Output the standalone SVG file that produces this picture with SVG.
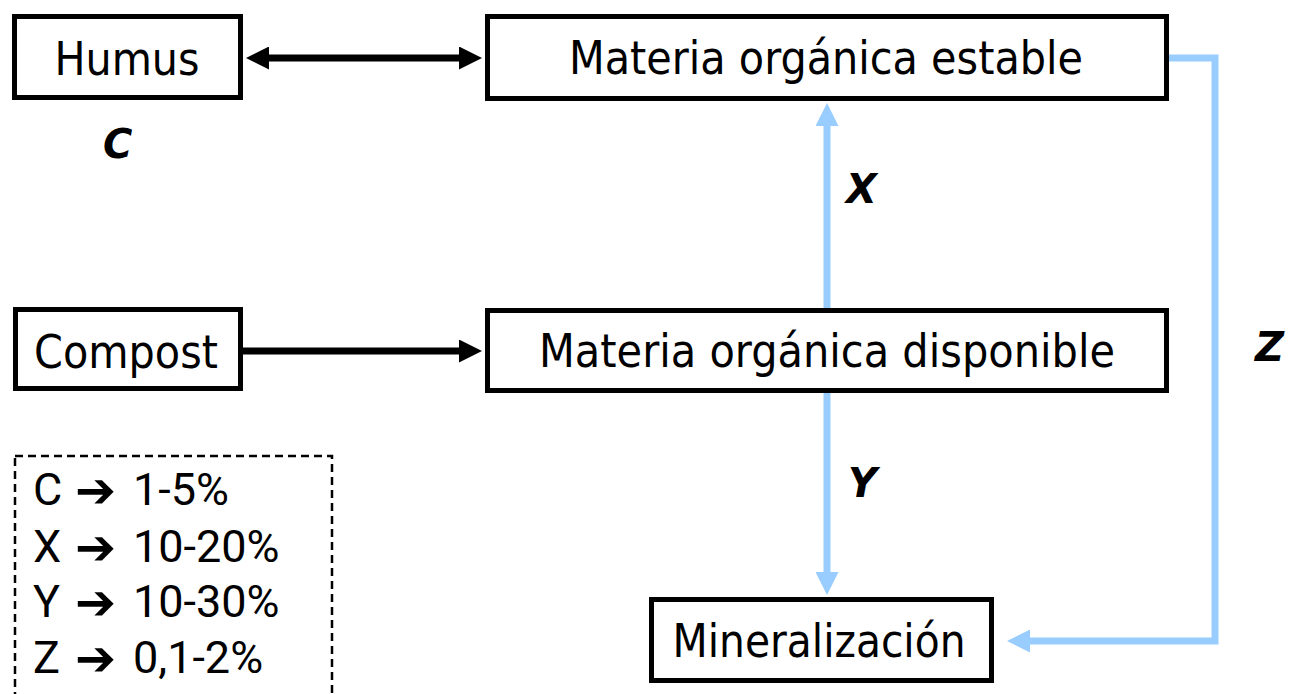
<svg xmlns="http://www.w3.org/2000/svg" width="1289" height="694" viewBox="0 0 1289 694">
<style>
.box{fill:#fff;stroke:#000;stroke-width:5}
.t{font-family:"DejaVu Sans",Verdana,sans-serif;font-size:47px;fill:#000;text-anchor:middle}
.lbl{font-family:"DejaVu Sans",Verdana,sans-serif;font-size:40px;font-weight:bold;font-style:italic;fill:#000}
.leg{font-family:Roboto,"Liberation Sans",sans-serif;font-size:45px;fill:#000}
.arr{font-family:"DejaVu Sans",sans-serif;font-size:49px;font-weight:bold;fill:#000}
.blk{fill:none;stroke:#000;stroke-width:7}
.blu{fill:none;stroke:#99CCFF;stroke-width:7}
</style>
<defs>
<marker id="hb" markerUnits="userSpaceOnUse" viewBox="0 0 23 23" refX="1" refY="11.5" markerWidth="23" markerHeight="23" orient="auto-start-reverse"><path d="M0,0 L23,11.5 L0,23 Z" fill="#000"/></marker>
<marker id="hl" markerUnits="userSpaceOnUse" viewBox="0 0 23 23" refX="1" refY="11.5" markerWidth="23" markerHeight="23" orient="auto-start-reverse"><path d="M0,0 L23,11.5 L0,23 Z" fill="#99CCFF"/></marker>
</defs>
<rect width="1289" height="694" fill="#fff"/>
<g id="connectors">
<line class="blk" x1="268" y1="58" x2="460" y2="58" marker-start="url(#hb)" marker-end="url(#hb)"/>
<line class="blk" x1="243" y1="351" x2="460" y2="351" marker-end="url(#hb)"/>
<line class="blu" x1="827" y1="308" x2="827" y2="125" marker-end="url(#hl)"/>
<line class="blu" x1="827" y1="393" x2="827" y2="573" marker-end="url(#hl)"/>
<polyline class="blu" points="1169,58 1215,58 1215,641 1029,641" marker-end="url(#hl)"/>
</g>
<g id="humus"><rect class="box" x="14.5" y="16.5" width="226" height="81"/><text class="t" x="127" y="75" textLength="145" lengthAdjust="spacingAndGlyphs">Humus</text></g>
<g id="estable"><rect class="box" x="487.5" y="16.5" width="679" height="82"/><text class="t" x="826" y="74" textLength="514" lengthAdjust="spacingAndGlyphs">Materia orgánica estable</text></g>
<g id="compost"><rect class="box" x="15.5" y="309.5" width="225" height="79"/><text class="t" x="126" y="368" textLength="184" lengthAdjust="spacingAndGlyphs">Compost</text></g>
<g id="disponible"><rect class="box" x="487.5" y="310.5" width="679" height="80"/><text class="t" x="827" y="367" textLength="576" lengthAdjust="spacingAndGlyphs">Materia orgánica disponible</text></g>
<g id="mineralizacion"><rect class="box" x="651.5" y="599.5" width="340" height="81"/><text class="t" x="819" y="657" textLength="293" lengthAdjust="spacingAndGlyphs">Mineralización</text></g>
<g id="labels">
<text class="lbl" x="103" y="158">C</text>
<text class="lbl" x="846" y="203">X</text>
<text class="lbl" x="848" y="497">Y</text>
<text class="lbl" x="1255" y="361">Z</text>
</g>
<g id="legend">
<rect x="15" y="456" width="317" height="260" fill="none" stroke="#000" stroke-width="2.5" stroke-dasharray="8 5"/>
<text class="leg" y="505"><tspan x="33">C</tspan><tspan x="133">1-5%</tspan></text>
<text class="leg" y="562"><tspan x="33">X</tspan><tspan x="133">10-20%</tspan></text>
<text class="leg" y="617"><tspan x="33">Y</tspan><tspan x="133">10-30%</tspan></text>
<text class="leg" y="673"><tspan x="33">Z</tspan><tspan x="133">0,1-2%</tspan></text>
<text class="arr" x="75" y="507">➔</text>
<text class="arr" x="75" y="564">➔</text>
<text class="arr" x="75" y="619">➔</text>
<text class="arr" x="75" y="675">➔</text>
</g>
</svg>
